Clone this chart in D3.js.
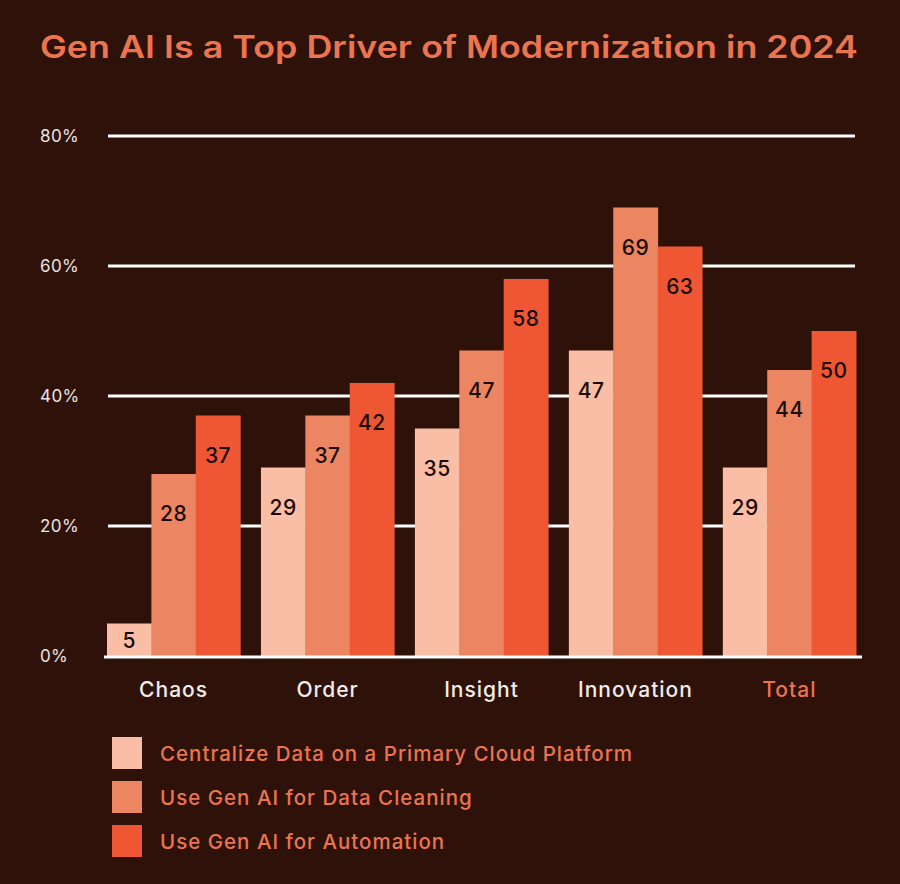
<!DOCTYPE html>
<html lang="en">
<head>
<meta charset="UTF-8">
<title>Gen AI Is a Top Driver of Modernization in 2024</title>
<script src="https://d3js.org/d3.v7.min.js"></script>
<style>
  body { margin: 0; background: #2e1108; }
  svg { display: block; }
</style>
</head>
<body>
<svg width="900" height="884"></svg>
<script>
    const categories = ["Chaos", "Order", "Insight", "Innovation", "Total"];
    const seriesNames = [
        "Centralize Data on a Primary Cloud Platform",
        "Use Gen AI for Data Cleaning",
        "Use Gen AI for Automation"
    ];
    const centralize = [5, 29, 35, 47, 29];
    const cleaning = [28, 37, 47, 69, 44];
    const automation = [37, 42, 58, 63, 50];
    const yTicks = [0, 20, 40, 60, 80];
    const colors = ["#f9bea5", "#ec8662", "#ef5634"];

    const svg = d3.select("svg");
    const font = "Inter, 'DejaVu Sans', sans-serif";

    // title
    svg.append("text")
        .attr("x", 449).attr("y", 58)
        .attr("text-anchor", "middle")
        .attr("font-family", font)
        .attr("font-weight", 600)
        .attr("font-size", 31)
        .attr("fill", "#ea7550")
        .attr("textLength", 818)
        .attr("lengthAdjust", "spacingAndGlyphs")
        .text("Gen AI Is a Top Driver of Modernization in 2024");

    const x0 = d3.scaleBand().domain(categories).range([107, 856]).paddingInner(0.135).paddingOuter(0);
    const x1 = d3.scaleBand().domain(d3.range(3)).range([0, x0.bandwidth()]);
    const y = d3.scaleLinear().domain([0, 80]).range([656, 136]);

    // gridlines
    svg.append("g").selectAll("line")
        .data(yTicks.filter(d => d > 0))
        .join("line")
        .attr("x1", 108).attr("x2", 855)
        .attr("y1", d => y(d)).attr("y2", d => y(d))
        .attr("stroke", "#ffffff").attr("stroke-width", 3);

    // y labels
    svg.append("g").selectAll("text")
        .data(yTicks)
        .join("text")
        .attr("x", 40).attr("y", d => y(d) + 6)
        .attr("font-family", font)
        .attr("font-size", 17)
        .attr("letter-spacing", 0.4)
        .attr("fill", "#ece4e0")
        .text(d => d + "%");

    const rows = categories.map((c, i) => ({ cat: c, vals: [centralize[i], cleaning[i], automation[i]] }));

    const groups = svg.append("g").selectAll("g")
        .data(rows)
        .join("g")
        .attr("transform", d => `translate(${x0(d.cat)},0)`);

    groups.selectAll("rect")
        .data(d => d.vals.map((v, k) => ({ v, k })))
        .join("rect")
        .attr("x", d => x1(d.k))
        .attr("width", x1.bandwidth() + 0.5)
        .attr("y", d => y(d.v))
        .attr("height", d => y(0) - y(d.v))
        .attr("fill", d => colors[d.k]);

    groups.selectAll("text")
        .data(d => d.vals.map((v, k) => ({ v, k })))
        .join("text")
        .attr("x", d => x1(d.k) + x1.bandwidth() / 2)
        .attr("y", d => Math.min(y(d.v) + 39, (y(d.v) + y(0)) / 2) + 8)
        .attr("text-anchor", "middle")
        .attr("font-family", font)
        .attr("font-weight", 500)
        .attr("font-size", 21)
        .attr("letter-spacing", 0.5)
        .attr("fill", "#1a0a05")
        .text(d => d.v);

    // baseline
    svg.append("line")
        .attr("x1", 104).attr("x2", 862)
        .attr("y1", y(0) + 1).attr("y2", y(0) + 1)
        .attr("stroke", "#ffffff").attr("stroke-width", 3);

    // category labels
    svg.append("g").selectAll("text")
        .data(categories)
        .join("text")
        .attr("x", d => x0(d) + x0.bandwidth() / 2)
        .attr("y", 697)
        .attr("text-anchor", "middle")
        .attr("font-family", font)
        .attr("font-weight", 500)
        .attr("font-size", 21)
        .attr("letter-spacing", 1)
        .attr("fill", d => d === "Total" ? "#ea7550" : "#f2ece8")
        .text(d => d);

    // legend
    const legend = svg.append("g").selectAll("g")
        .data(seriesNames)
        .join("g")
        .attr("transform", (d, i) => `translate(112,${737 + i * 44})`);

    legend.append("rect")
        .attr("width", 30).attr("height", 32)
        .attr("fill", (d, i) => colors[i]);

    legend.append("text")
        .attr("x", 48).attr("y", 24)
        .attr("font-family", font)
        .attr("font-weight", 500)
        .attr("font-size", 20.5)
        .attr("letter-spacing", 1)
        .attr("fill", "#ea7550")
        .text(d => d);
</script>
</body>
</html>
